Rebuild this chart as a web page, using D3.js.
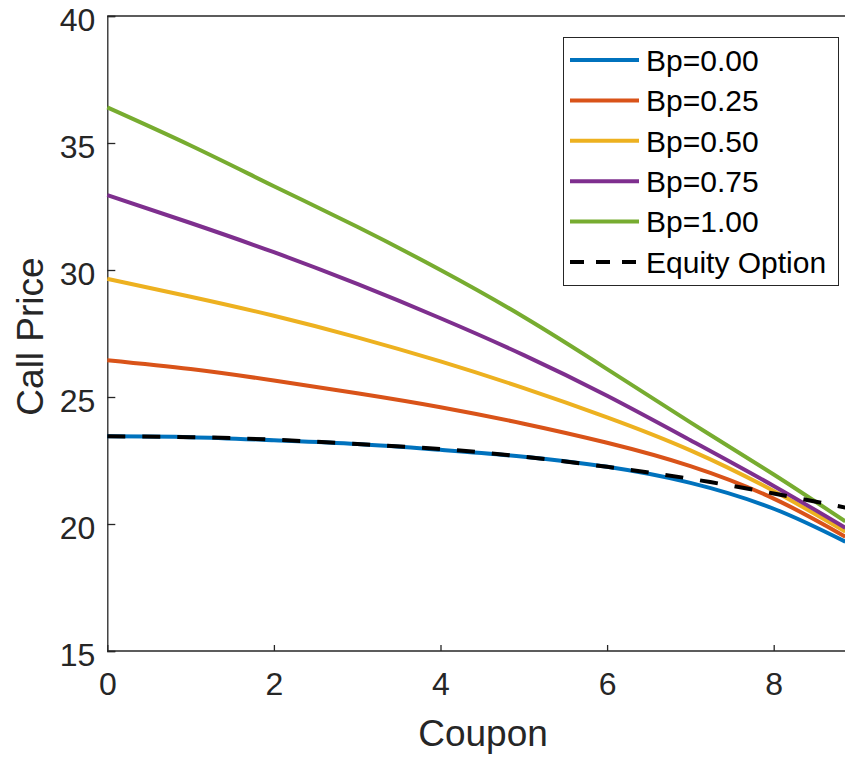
<!DOCTYPE html>
<html>
<head>
<meta charset="utf-8">
<script src="https://cdn.jsdelivr.net/npm/d3@7"></script>
<style>
  body { margin: 0; background: #fff; }
  svg { display: block; font-family: "Liberation Sans", Arial, sans-serif; }
</style>
</head>
<body>
<div id="chart"></div>
<script>
const coupon = [0, 1, 2, 3, 4, 5, 6, 7, 8, 8.86];

// call prices for each Bp level
const bp000 = [23.45, 23.42, 23.3, 23.15, 22.92, 22.65, 22.25, 21.62, 20.6, 19.3];
const bp025 = [26.45, 26.1, 25.65, 25.15, 24.6, 23.95, 23.2, 22.28, 21.0, 19.5];
const bp050 = [29.65, 28.95, 28.2, 27.35, 26.4, 25.35, 24.2, 22.9, 21.3, 19.7];
const bp075 = [32.95, 31.85, 30.7, 29.45, 28.1, 26.65, 25.05, 23.3, 21.5, 19.85];
const bp100 = [36.4, 34.9, 33.3, 31.7, 30.0, 28.15, 26.1, 24.0, 21.95, 20.1];
const equity = [23.45, 23.42, 23.32, 23.15, 22.95, 22.65, 22.25, 21.78, 21.2, 20.65];

const seriesNames = ["Bp=0.00", "Bp=0.25", "Bp=0.50", "Bp=0.75", "Bp=1.00", "Equity Option"];
const seriesValues = [bp000, bp025, bp050, bp075, bp100, equity];
const colors = ["#0072BD", "#D95319", "#EDB120", "#7E2F8E", "#77AC30", "#000000"];

const xTicks = [0, 2, 4, 6, 8];
const yTicks = [15, 20, 25, 30, 35, 40];

const W = 845, H = 758;
const mLeft = 107.3, mTop = 16, mBottom = 651;
const axisCol = "#262626";

const svg = d3.select("#chart").append("svg")
  .attr("width", W).attr("height", H);

// axis box goes a bit past the right edge (cropped like in the picture)
const x = d3.scaleLinear().domain([0, 9]).range([mLeft, mLeft + 9 * 83.3]);
const y = d3.scaleLinear().domain([15, 40]).range([mBottom, mTop]);

// top edge of the box
svg.append("line").attr("x1", mLeft).attr("x2", W + 20).attr("y1", mTop).attr("y2", mTop)
  .attr("stroke", axisCol).attr("stroke-width", 1.3);

const gx = svg.append("g").attr("transform", `translate(0,${mBottom})`)
  .call(d3.axisBottom(x).tickValues(xTicks).tickSize(-6).tickPadding(14).tickFormat(d3.format("d")));
gx.select(".domain").attr("d", `M${mLeft},0H${W + 20}`);

const gy = svg.append("g").attr("transform", `translate(${mLeft},0)`)
  .call(d3.axisLeft(y).tickValues(yTicks).tickSize(-8).tickPadding(12).tickFormat(d3.format("d")));

[gx, gy].forEach(g => {
  g.selectAll(".domain").attr("stroke", axisCol).attr("stroke-width", 1.3);
  g.selectAll(".tick line").attr("stroke", axisCol).attr("stroke-width", 1.3);
  g.selectAll(".tick text").attr("fill", axisCol)
    .style("font-size", "32px").style("font-family", "Liberation Sans, Arial, sans-serif");
});
gx.selectAll(".tick text").attr("dy", "0.95em");
gy.selectAll(".tick text").attr("dy", "0.45em");

// curves
const line = d3.line()
  .x((d, i) => x(coupon[i]))
  .y(d => y(d))
  .curve(d3.curveNatural);

seriesValues.forEach((vals, k) => {
  const p = svg.append("path")
    .attr("d", line(vals))
    .attr("fill", "none")
    .attr("stroke", colors[k])
    .attr("stroke-width", 4);
  if (k === 5) p.attr("stroke-dasharray", "18,17");
});

// axis labels
svg.append("text").attr("x", 483).attr("y", 746)
  .attr("text-anchor", "middle").attr("fill", axisCol)
  .style("font-size", "37px").text("Coupon");
svg.append("text").attr("transform", `translate(43,${(mTop + mBottom) / 2 + 3}) rotate(-90)`)
  .attr("text-anchor", "middle").attr("fill", axisCol)
  .style("font-size", "37px").text("Call Price");

// legend
const leg = svg.append("g");
leg.append("rect").attr("x", 563.5).attr("y", 37.5).attr("width", 275).attr("height", 248)
  .attr("fill", "#fff").attr("stroke", axisCol).attr("stroke-width", 1);
seriesNames.forEach((name, k) => {
  const yy = 60 + k * 40.4;
  const l = leg.append("line").attr("x1", 570).attr("x2", 639).attr("y1", yy).attr("y2", yy)
    .attr("stroke", colors[k]).attr("stroke-width", 4);
  if (k === 5) l.attr("stroke-dasharray", "14,12");
  leg.append("text").attr("x", 646).attr("y", yy).attr("dy", "0.36em")
    .attr("fill", "#000").style("font-size", "30px").text(name);
});
</script>
</body>
</html>
